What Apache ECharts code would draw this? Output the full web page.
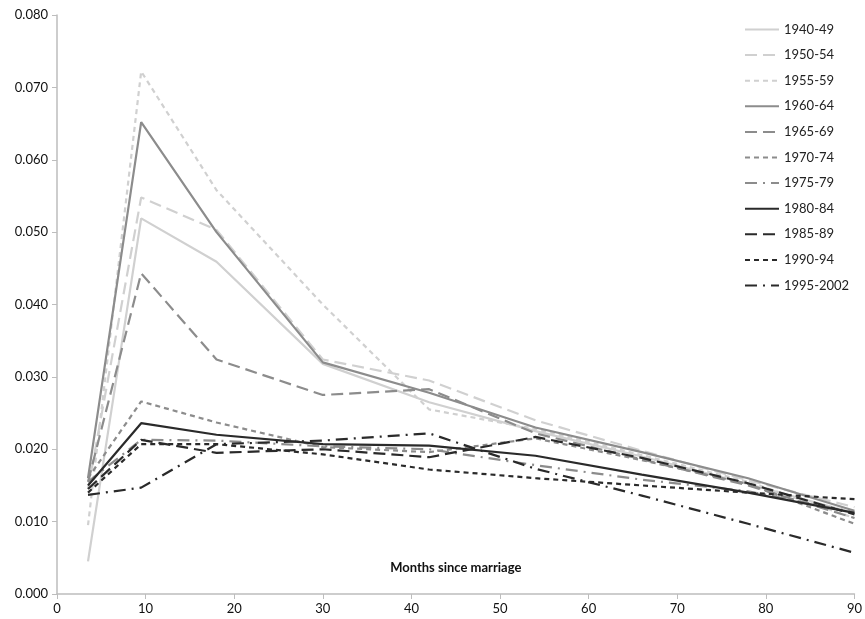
<!DOCTYPE html>
<html>
<head>
<meta charset="utf-8">
<script src="https://cdn.jsdelivr.net/npm/echarts@6/dist/echarts.min.js"></script>
<style>
  html, body { margin: 0; padding: 0; background: #fff; }
  #chart { width: 865px; height: 619px; }
</style>
</head>
<body>
<div id="chart"></div>
<script>
var months = [3.5, 9.5, 18, 30, 42, 54, 66, 78, 90];

var c1940 = [0.0045, 0.0519, 0.0459, 0.0318, 0.0265, 0.0225, 0.0190, 0.0152, 0.0112];
var c1950 = [0.0145, 0.0548, 0.0503, 0.0324, 0.0295, 0.0240, 0.0198, 0.0157, 0.0120];
var c1955 = [0.0095, 0.0722, 0.0558, 0.0400, 0.0255, 0.0228, 0.0192, 0.0155, 0.0105];
var c1960 = [0.0160, 0.0652, 0.0500, 0.0320, 0.0278, 0.0230, 0.0196, 0.0160, 0.0115];
var c1965 = [0.0155, 0.0443, 0.0324, 0.0275, 0.0283, 0.0222, 0.0186, 0.0150, 0.0105];
var c1970 = [0.0160, 0.0266, 0.0237, 0.0203, 0.0196, 0.0215, 0.0185, 0.0152, 0.0097];
var c1975 = [0.0155, 0.0213, 0.0212, 0.0204, 0.0200, 0.0178, 0.0158, 0.0142, 0.0113];
var c1980 = [0.0150, 0.0236, 0.0220, 0.0207, 0.0205, 0.0191, 0.0165, 0.0140, 0.0112];
var c1985 = [0.0145, 0.0213, 0.0195, 0.0200, 0.0189, 0.0217, 0.0188, 0.0153, 0.0110];
var c1990 = [0.0140, 0.0207, 0.0207, 0.0193, 0.0172, 0.0160, 0.0150, 0.0140, 0.0131];
var c1995 = [0.0137, 0.0147, 0.0207, 0.0212, 0.0222, 0.0173, 0.0136, 0.0097, 0.0057];

var yTicks = ['0.000', '0.010', '0.020', '0.030', '0.040', '0.050', '0.060', '0.070', '0.080'];

var light = '#d0d0d0', mid = '#8c8c8c', dark = '#2a2a2a';
var solid = 'solid', longDash = [12, 6], shortDash = [5, 4], dashDot = [12, 6, 2, 6];

function pairs(vals) {
  return months.map(function (m, i) { return [m, vals[i]]; });
}
function mk(name, vals, color, type) {
  return {
    name: name,
    type: 'line',
    data: pairs(vals),
    symbol: 'none',
    lineStyle: { color: color, width: 2.2, type: type },
    itemStyle: { color: color },
    emphasis: { disabled: true }
  };
}

var chart = echarts.init(document.getElementById('chart'));
chart.setOption({
  animation: false,
  textStyle: { fontFamily: 'Lato, "Open Sans", sans-serif' },
  grid: { left: 57, right: 9, top: 15, bottom: 25 },
  legend: {
    orient: 'vertical',
    left: 739,
    top: 18,
    itemWidth: 34,
    itemHeight: 10,
    itemGap: 12.6,
    itemStyle: { opacity: 0 },
    textStyle: { fontSize: 13, color: '#222' },
    data: ['1940-49', '1950-54', '1955-59', '1960-64', '1965-69', '1970-74',
           '1975-79', '1980-84', '1985-89', '1990-94', '1995-2002']
  },
  xAxis: {
    type: 'value',
    min: 0,
    max: 90,
    interval: 10,
    name: 'Months since marriage',
    nameLocation: 'middle',
    nameGap: -33,
    nameTextStyle: { fontWeight: 'bold', fontSize: 13, color: '#111' },
    axisLine: { lineStyle: { color: '#bdbdbd', width: 1.5 } },
    axisTick: { show: true, length: 5, lineStyle: { color: '#bdbdbd' } },
    axisLabel: { fontSize: 13, color: '#111', margin: 8 },
    splitLine: { show: false }
  },
  yAxis: {
    type: 'value',
    min: 0,
    max: 0.08,
    interval: 0.01,
    axisLine: { show: true, lineStyle: { color: '#bdbdbd', width: 1.5 } },
    axisTick: { show: true, length: 5, lineStyle: { color: '#bdbdbd' } },
    axisLabel: {
      fontSize: 13,
      color: '#111',
      margin: 9,
      formatter: function (v) { return yTicks[Math.round(v * 100)]; }
    },
    splitLine: { show: false }
  },
  series: [
    mk('1940-49', c1940, light, solid),
    mk('1950-54', c1950, light, longDash),
    mk('1955-59', c1955, light, shortDash),
    mk('1960-64', c1960, mid, solid),
    mk('1965-69', c1965, mid, longDash),
    mk('1970-74', c1970, mid, shortDash),
    mk('1975-79', c1975, mid, dashDot),
    mk('1980-84', c1980, dark, solid),
    mk('1985-89', c1985, dark, longDash),
    mk('1990-94', c1990, dark, shortDash),
    mk('1995-2002', c1995, dark, dashDot)
  ]
});
</script>
</body>
</html>
